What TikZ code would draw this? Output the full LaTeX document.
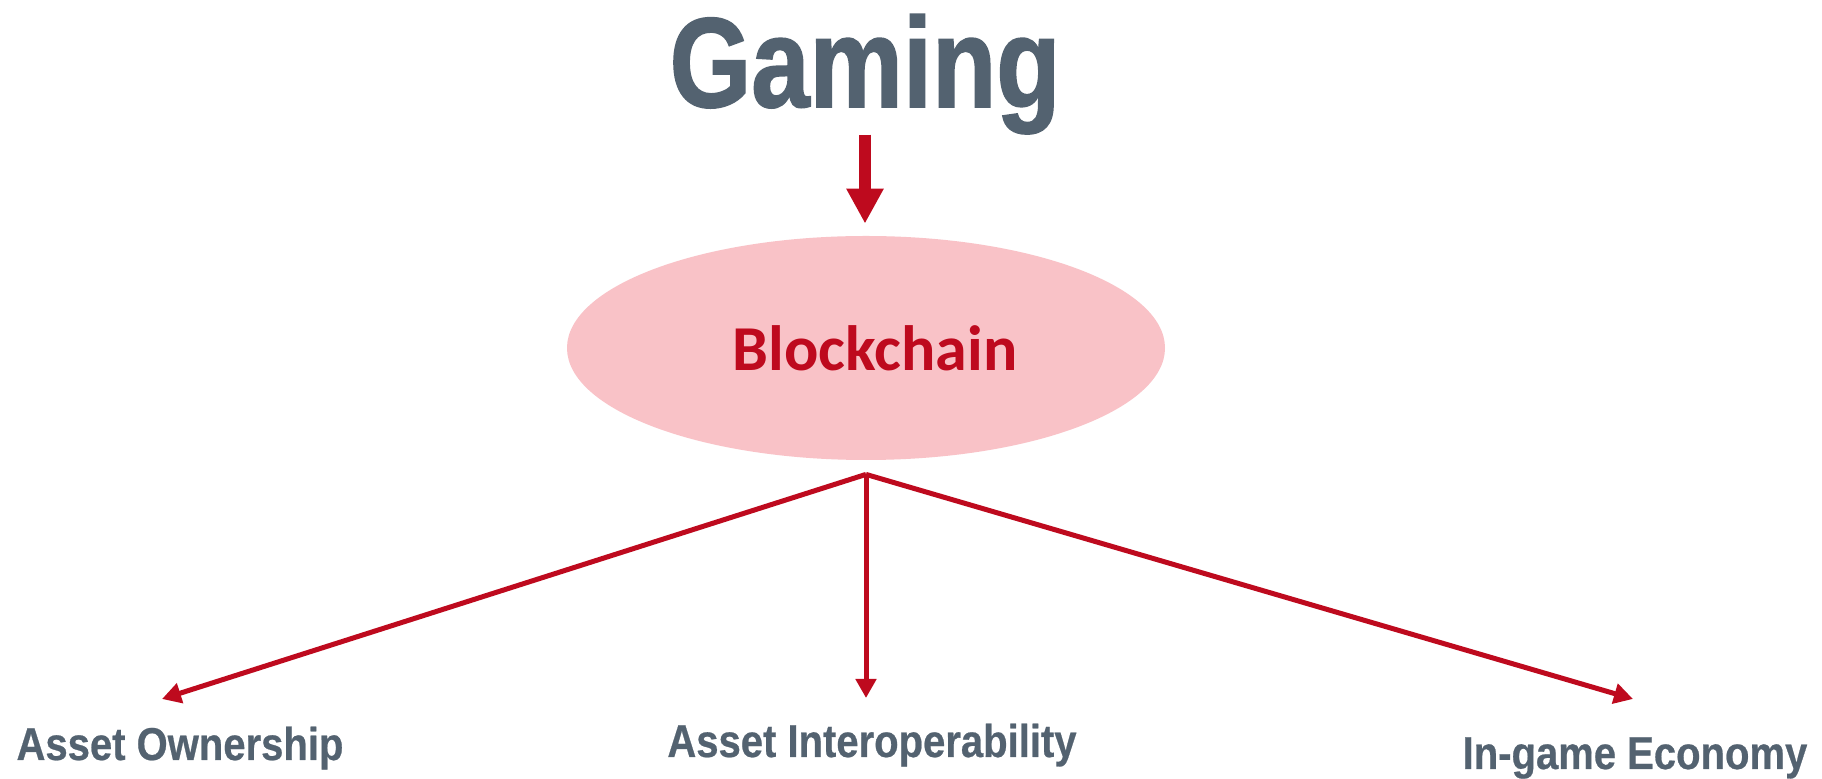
\documentclass[tikz,border=0pt]{standalone}
\usepackage{fontspec}
\newfontfamily\titlefont{Liberation Sans}[FakeStretch=0.82,FakeBold=1.2]
\newfontfamily\labelfont{Liberation Sans}[FakeStretch=0.87,FakeBold=0.5]
\newfontfamily\chainfont{Carlito}
\usetikzlibrary{arrows.meta,shapes.geometric,positioning}
\definecolor{slate}{HTML}{536270}
\definecolor{chainred}{HTML}{BE0A1E}
\definecolor{chainpink}{HTML}{F9C2C7}

\begin{document}
\begin{tikzpicture}[x=0.5pt,y=-0.5pt,
  titletext/.style={font=\titlefont\bfseries\fontsize{64}{64}\selectfont,text=slate,inner sep=0pt,anchor=base},
  leaftext/.style={font=\labelfont\bfseries\fontsize{23}{23}\selectfont,text=slate,inner sep=0pt,anchor=base},
  bigarrow/.style={line width=6pt,chainred,-{Triangle[width=17.5pt,length=17.5pt]}},
  branch/.style={line width=2.5pt,chainred,-{Triangle[width=10pt,length=9.5pt]}}]
  \useasboundingbox (0,0) rectangle (1822,779);
  \fill[white] (0,0) rectangle (1822,779);
  \node[titletext] (gaming) at (865,107) {Gaming};
  \node[ellipse,fill=chainpink,minimum width=299pt,minimum height=112pt,inner sep=0pt,
        font=\chainfont\bfseries\fontsize{32}{32}\selectfont,text=chainred] (chain) at (866,348) {\hspace*{9pt}Blockchain};
  \coordinate[below=7pt of chain] (fork);
  % leaves
  \node[leaftext] (owner) at (180,760) {Asset Ownership};
  \node[leaftext] (interop) at (872,757) {Asset Interoperability};
  \node[leaftext] (economy) at (1635,769) {In-game Economy};
  \coordinate (tipL) at (162,699);
  \coordinate (tipM) at (fork |- 0,698);
  \coordinate (tipR) at (1633,699);
  % arrows
  \draw[bigarrow,shorten >=6pt] (gaming.south) -- (gaming.south |- chain.north);
  \foreach \t in {tipL,tipM,tipR} \draw[branch] (fork) -- (\t);
\end{tikzpicture}
\end{document}
